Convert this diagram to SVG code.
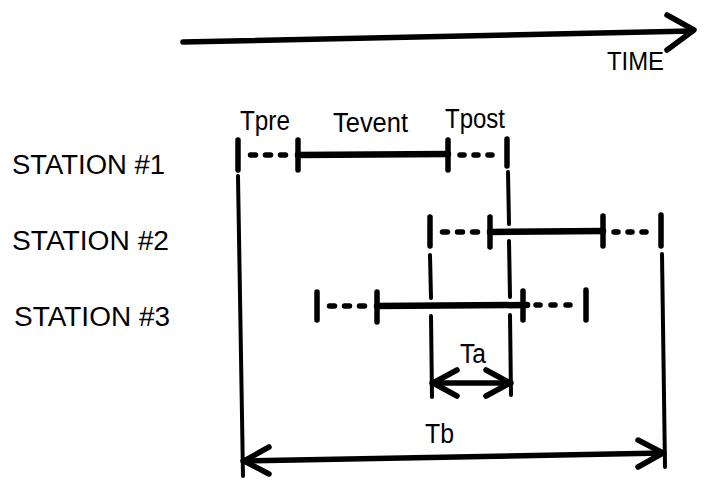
<svg xmlns="http://www.w3.org/2000/svg" width="708" height="481" viewBox="0 0 708 481">
<style>
  .lbl { font-family: "Liberation Sans", Arial, sans-serif; fill: #000; }
  .st { font-size: 27px; }
  .sm { font-size: 27px; }
  .thick { stroke: #000; stroke-width: 6.5; stroke-linecap: round; fill: none; }
  .dash { stroke: #000; stroke-width: 5.5; stroke-linecap: round; fill: none; }
  .tick { stroke: #000; stroke-width: 5.5; stroke-linecap: round; fill: none; }
  .vline { stroke: #000; stroke-width: 4; stroke-linecap: round; fill: none; }
  .arr { stroke: #000; stroke-width: 5.5; stroke-linecap: round; stroke-linejoin: round; fill: none; }
</style>
<rect width="708" height="481" fill="#fff"/>

<g id="time-axis">
  <path class="arr" d="M183 42 L692 31"/>
  <path class="arr" d="M667 15 L694 30 L667 50"/>
  <text class="lbl" x="607" y="70" font-size="26" textLength="57" lengthAdjust="spacingAndGlyphs">TIME</text>
</g>

<g id="station-labels">
  <text class="lbl st" x="12" y="174" textLength="153" lengthAdjust="spacingAndGlyphs">STATION #1</text>
  <text class="lbl st" x="12" y="250" textLength="157" lengthAdjust="spacingAndGlyphs">STATION #2</text>
  <text class="lbl st" x="14" y="326" textLength="156" lengthAdjust="spacingAndGlyphs">STATION #3</text>
</g>

<g id="station1">
  <text class="lbl sm" x="240" y="130" textLength="50" lengthAdjust="spacingAndGlyphs">Tpre</text>
  <text class="lbl sm" x="333" y="132" textLength="75" lengthAdjust="spacingAndGlyphs">Tevent</text>
  <text class="lbl sm" x="445" y="128" textLength="60" lengthAdjust="spacingAndGlyphs">Tpost</text>
  <path class="tick" d="M238 140 V170 M298 140 V170 M448 140 V170 M507 139 V166"/>
  <path class="dash" d="M250.5 155 h5 M265.5 155 h5 M280.5 155 h5 M460 155 h4 M474 155 h4 M488 155 h4"/>
  <path class="thick" d="M298 155 L448 154"/>
</g>

<g id="station2">
  <path class="tick" d="M430 217 V246 M490 217 V247 M603 216 V246 M661 215 V246"/>
  <path class="dash" d="M442.5 232 h5 M457.5 232 h5 M472.5 232 h5 M614 232 h4 M628 232 h4 M642 232 h4"/>
  <path class="thick" d="M490 232 L603 231"/>
</g>

<g id="station3">
  <path class="tick" d="M317 292 V320 M377 292 V322 M523 291 V320 M586 290 V320"/>
  <path class="dash" d="M329.5 306 h5 M344.5 306 h5 M359.5 306 h5 M536 305 h4 M551 305 h4 M566 305 h4"/>
  <path class="thick" d="M377 306 L527 305"/>
</g>

<g id="connectors">
  <path class="vline" d="M238 176 L243 476"/>
  <path class="vline" d="M508 172 L509 224 M509 241 L510 297 M510 315 L511 395"/>
  <path class="vline" d="M430 255 L431 298 M431 316 L432 397"/>
  <path class="vline" d="M662 254 L665 467"/>
</g>

<g id="Ta">
  <text class="lbl sm" x="460" y="363" textLength="26" lengthAdjust="spacingAndGlyphs">Ta</text>
  <path class="arr" d="M432 383 L511 383"/>
  <path class="arr" d="M457 370 L433 383 L457 396"/>
  <path class="arr" d="M486 370 L510 383 L486 396"/>
</g>

<g id="Tb">
  <text class="lbl sm" x="425" y="443" textLength="29" lengthAdjust="spacingAndGlyphs">Tb</text>
  <path class="arr" d="M243 461 L664 453"/>
  <path class="arr" d="M269 447 L244 461 L269 474"/>
  <path class="arr" d="M638 440 L663 453 L638 467"/>
</g>
</svg>
